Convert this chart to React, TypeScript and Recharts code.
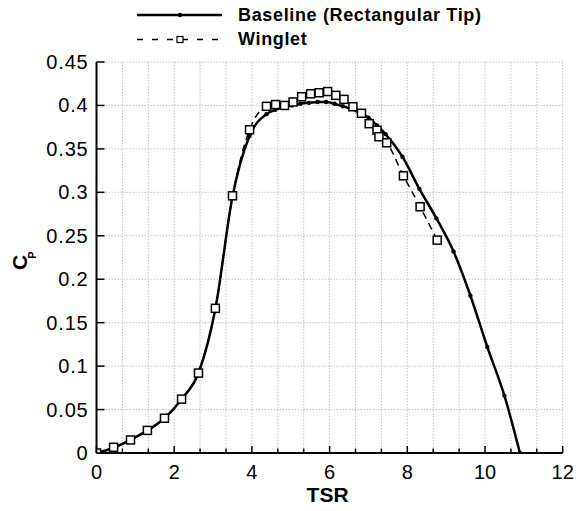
import React from "react";
import { LineChart, Line, XAxis, YAxis, CartesianGrid } from "recharts";

const baselineTSR = [0, 0.44, 0.875, 1.31, 1.75, 2.19, 2.625, 3.06, 3.5, 3.94, 4.375, 4.6, 4.81, 5.03, 5.25, 5.47, 5.69, 5.91, 6.125, 6.34, 6.56, 6.78, 7.0, 7.22, 7.44, 7.875, 8.31, 8.75, 9.19, 9.625, 10.06, 10.5, 10.9];
const baselineCp = [0, 0.006, 0.015, 0.026, 0.04, 0.062, 0.092, 0.166, 0.295, 0.365, 0.39, 0.395, 0.398, 0.4, 0.402, 0.403, 0.404, 0.404, 0.402, 0.399, 0.396, 0.391, 0.386, 0.377, 0.367, 0.341, 0.304, 0.27, 0.232, 0.181, 0.122, 0.066, 0];

const wingletTSR = [0, 0.44, 0.875, 1.31, 1.75, 2.19, 2.625, 3.06, 3.5, 3.94, 4.375, 4.61, 4.84, 5.06, 5.28, 5.51, 5.73, 5.95, 6.16, 6.37, 6.6, 6.82, 7.02, 7.22, 7.27, 7.47, 7.9, 8.33, 8.77];
const wingletCp = [0, 0.0066, 0.015, 0.026, 0.04, 0.062, 0.092, 0.1665, 0.296, 0.372, 0.399, 0.401, 0.4, 0.404, 0.41, 0.4134, 0.4146, 0.416, 0.4116, 0.407, 0.3985, 0.391, 0.379, 0.3715, 0.364, 0.357, 0.319, 0.2834, 0.245];

const xTicks = [0, 2 / 3, 4 / 3, 2, 8 / 3, 10 / 3, 4, 14 / 3, 16 / 3, 6, 20 / 3, 22 / 3, 8, 26 / 3, 28 / 3, 10, 32 / 3, 34 / 3, 12];
const xLabels = ["0", "", "", "2", "", "", "4", "", "", "6", "", "", "8", "", "", "10", "", "", "12"];
const yTicks = [0, 0.05, 0.1, 0.15, 0.2, 0.25, 0.3, 0.35, 0.4, 0.45];
const yLabels = ["0", "0.05", "0.1", "0.15", "0.2", "0.25", "0.3", "0.35", "0.4", "0.45"];

const seriesNames = ["Baseline (Rectangular Tip)", "Winglet"];

const baselineData = baselineTSR.map((x, i) => ({ x, y: baselineCp[i] }));
const wingletData = wingletTSR.map((x, i) => ({ x, y: wingletCp[i] }));

const FONT = "Arial, 'Liberation Sans', Helvetica, sans-serif";

const XTick = (props: any) => {
  const { x, y, index } = props;
  const label = xLabels[index] ?? "";
  const major = label !== "";
  return (
    <g>
      <line x1={x} x2={x} y1={y} y2={y - (major ? 7 : 4.5)} stroke="#000" strokeWidth={1.5} />
      {major && (
        <text x={x} y={y + 26} textAnchor="middle" fontFamily={FONT} fontSize={20} fill="#000">
          {label}
        </text>
      )}
    </g>
  );
};

const YTick = (props: any) => {
  const { x, y, index } = props;
  const label = yLabels[index] ?? "";
  return (
    <g>
      <line x1={x} x2={x + 8} y1={y} y2={y} stroke="#000" strokeWidth={1.5} />
      <text x={x - 8} y={y + 7} textAnchor="end" fontFamily={FONT} fontSize={20} letterSpacing={0.8} fill="#000">
        {label}
      </text>
    </g>
  );
};

const SquareDot = (props: any) => {
  const { cx, cy, index } = props;
  if (cx == null || cy == null) return <g key={index} />;
  return <rect key={index} x={cx - 4} y={cy - 4} width={8} height={8} fill="#fff" stroke="#000" strokeWidth={1.5} />;
};

const SmallDot = (props: any) => {
  const { cx, cy, index } = props;
  if (cx == null || cy == null) return <g key={index} />;
  return <circle key={index} cx={cx} cy={cy} r={2.2} fill="#000" stroke="none" />;
};

const CpLabel = (props: any) => {
  const vb = props.viewBox || { x: 36.5, y: 62, width: 60, height: 391 };
  const bx = vb.x - 9.5;
  const by = vb.y + vb.height / 2 + 12.5;
  return (
    <text transform={`translate(${bx}, ${by}) rotate(-90)`} x={0} y={0} fontFamily={FONT} fontWeight="bold" fontSize={21} fill="#000">
      C
      <tspan fontSize={11} dx={-4} dy={9}>P</tspan>
    </text>
  );
};

const TsrLabel = (props: any) => {
  const vb = props.viewBox || { x: 96.5, y: 453, width: 466, height: 40 };
  return (
    <text x={vb.x + vb.width / 2 - 2} y={vb.y + 49} textAnchor="middle" fontFamily={FONT} fontWeight="bold" fontSize={21} fill="#000">
      TSR
    </text>
  );
};

const Legend = () => (
  <svg width={576} height={60} style={{ position: "absolute", left: 0, top: 0, pointerEvents: "none" }}>
    <line x1={137} x2={222} y1={15} y2={15} stroke="#000" strokeWidth={2.5} />
    <circle cx={180} cy={15} r={2.2} fill="#000" />
    <text x={238} y={21} fontFamily={FONT} fontWeight="bold" fontSize={18} letterSpacing={0.65} fill="#000">
      {seriesNames[0]}
    </text>
    <line x1={137} x2={222} y1={39.5} y2={39.5} stroke="#000" strokeWidth={1.5} strokeDasharray="6 9" />
    <rect x={177} y={36.5} width={6} height={6} fill="#fff" stroke="#000" strokeWidth={1.2} />
    <text x={238} y={45} fontFamily={FONT} fontWeight="bold" fontSize={18} letterSpacing={0.65} fill="#000">
      {seriesNames[1]}
    </text>
  </svg>
);

export default function App() {
  return (
    <div style={{ position: "absolute", left: 0, top: 0, width: 576, height: 511, background: "#fff" }}>
      <LineChart width={576} height={511} margin={{ top: 62, right: 13.3, bottom: 18, left: 36.5 }}>
        <CartesianGrid stroke="#c4c4c4" strokeDasharray="1.5 1.5" strokeWidth={1} />
        <XAxis
          dataKey="x"
          type="number"
          domain={[0, 12]}
          ticks={xTicks}
          interval={0}
          allowDataOverflow
          height={40}
          tickSize={0}
          tickMargin={0}
          tickLine={false}
          axisLine={{ stroke: "#000", strokeWidth: 2 }}
          tick={<XTick />}
          label={<TsrLabel />}
        />
        <YAxis
          dataKey="y"
          type="number"
          domain={[0, 0.45]}
          ticks={yTicks}
          interval={0}
          allowDataOverflow
          width={60}
          tickSize={0}
          tickMargin={0}
          tickLine={false}
          axisLine={{ stroke: "#000", strokeWidth: 2 }}
          tick={<YTick />}
          label={<CpLabel />}
        />
        <Line
          data={baselineData}
          dataKey="y"
          type="monotone"
          stroke="#000"
          strokeWidth={2.5}
          dot={<SmallDot />}
          isAnimationActive={false}
          name={seriesNames[0]}
        />
        <Line
          data={wingletData}
          dataKey="y"
          type="monotone"
          stroke="#000"
          strokeWidth={1.5}
          strokeDasharray="7 5"
          dot={<SquareDot />}
          isAnimationActive={false}
          name={seriesNames[1]}
        />
      </LineChart>
      <Legend />
    </div>
  );
}
